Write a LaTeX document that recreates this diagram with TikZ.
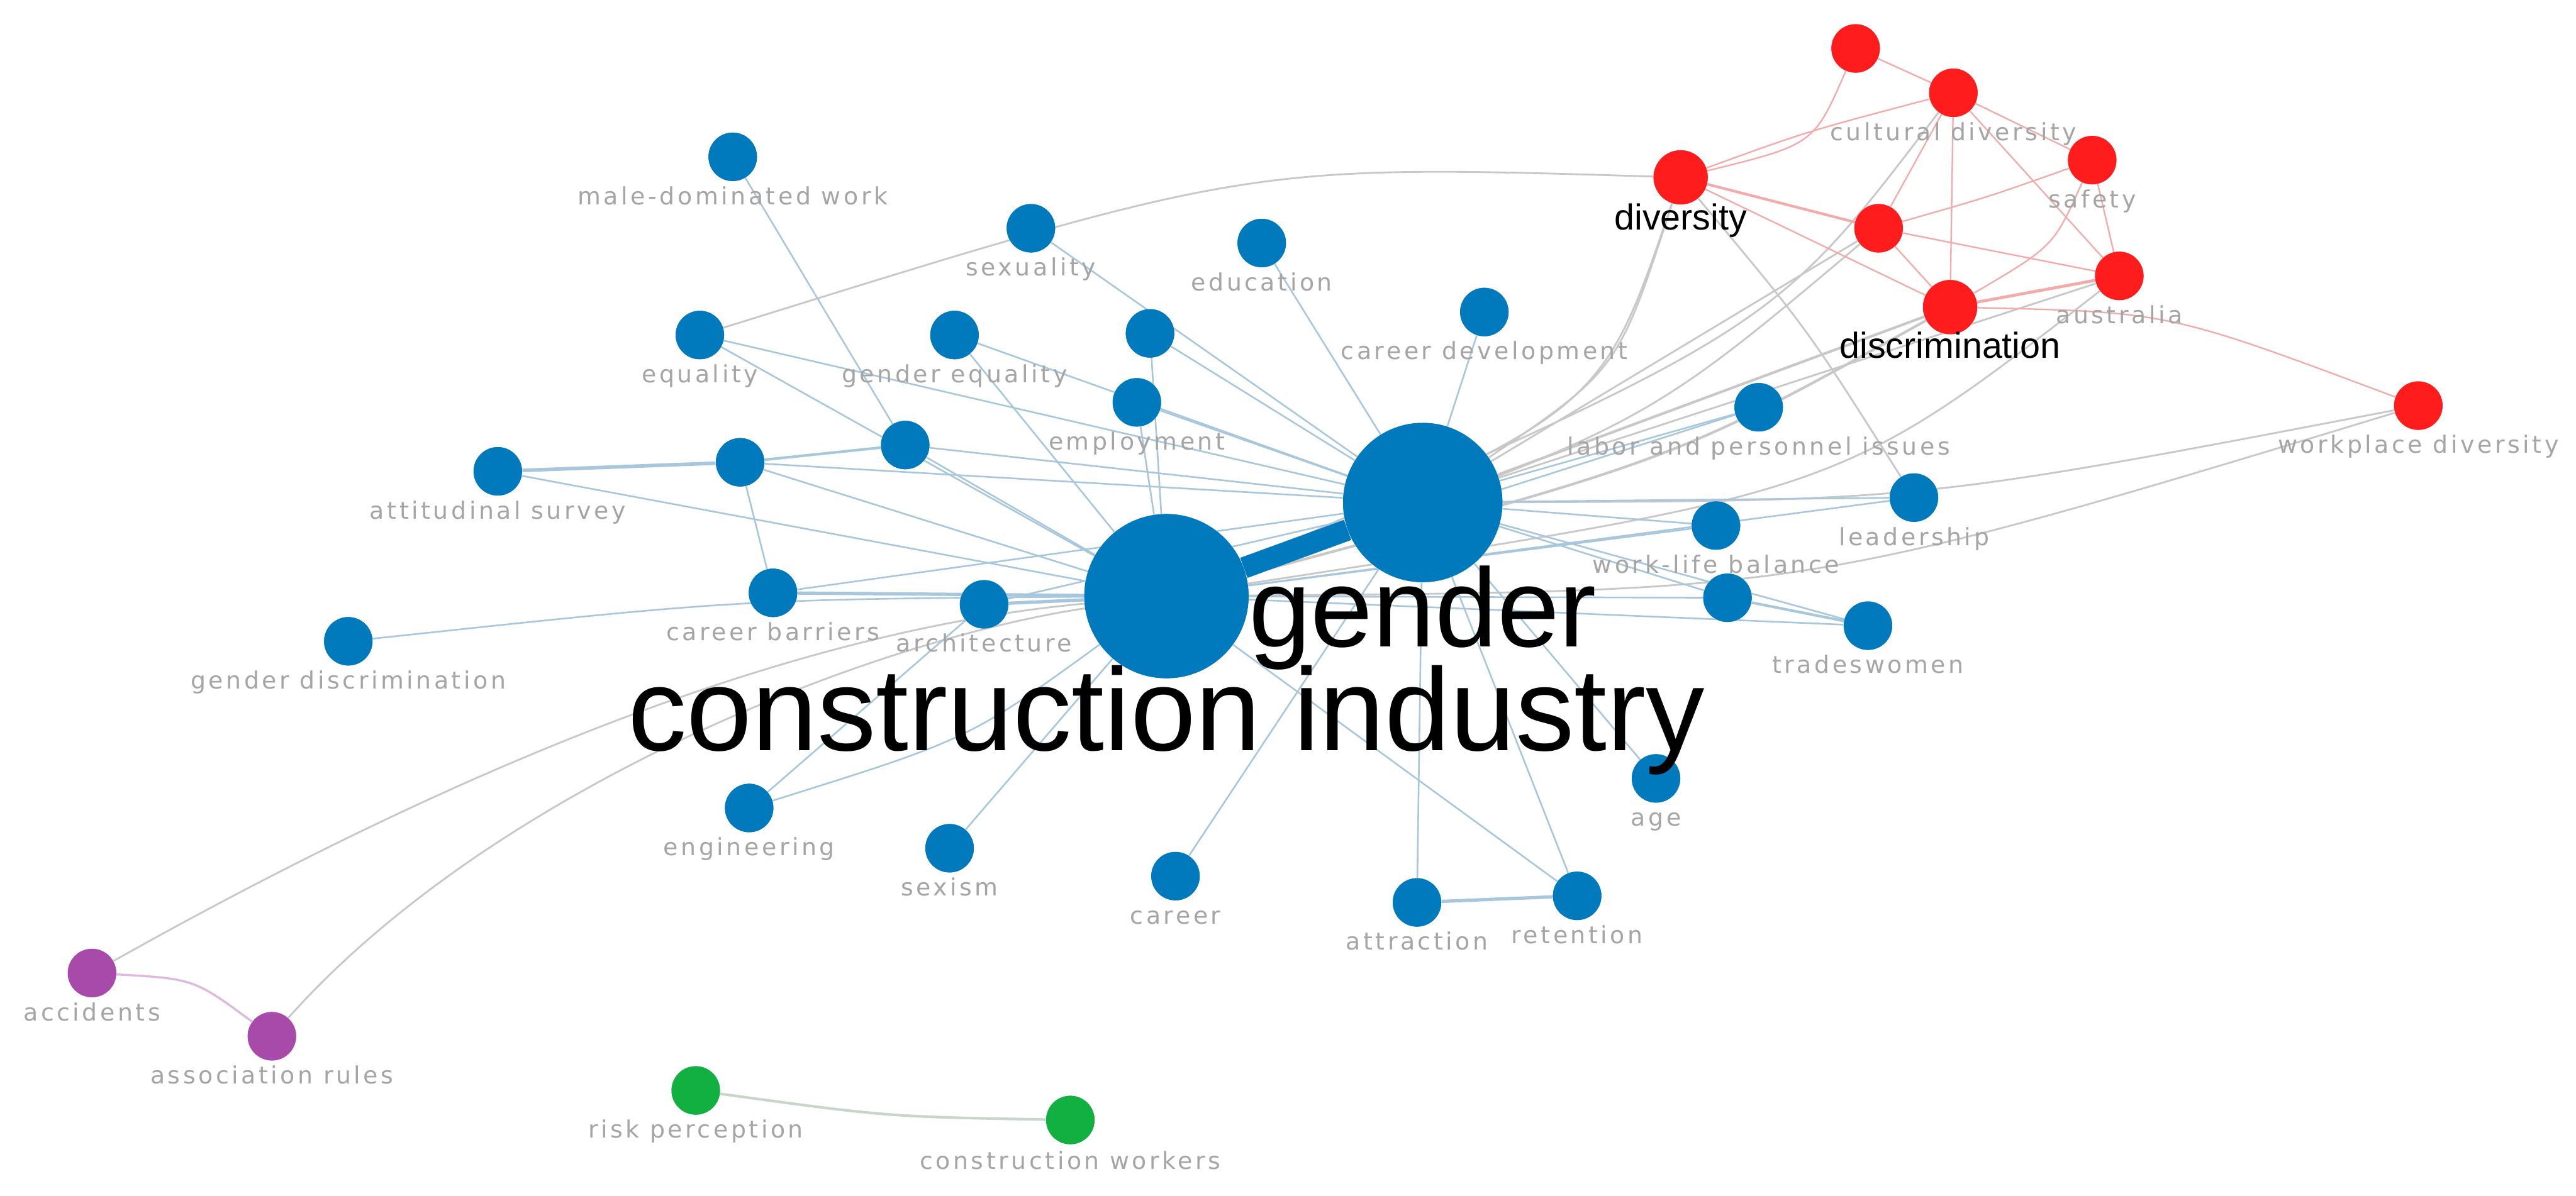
\documentclass[tikz,border=0pt]{standalone}
\usepackage{fontspec}
\setmainfont{Liberation Sans}
\newfontfamily\lblfont[LetterSpace=12]{DejaVu Sans}
\definecolor{nblue}{RGB}{0,122,189}
\definecolor{nred}{RGB}{255,28,28}
\definecolor{npurple}{RGB}{168,74,170}
\definecolor{ngreen}{RGB}{18,176,64}
\definecolor{eblue}{RGB}{168,199,220}
\definecolor{egray}{RGB}{200,200,200}
\definecolor{ered}{RGB}{242,170,170}
\definecolor{epurple}{RGB}{222,185,222}
\definecolor{egreen}{RGB}{200,214,200}
\definecolor{lgray}{RGB}{165,165,165}
\tikzset{
  kw/.style={circle, fill=nblue, inner sep=0pt, minimum size=29.5pt},
  kwr/.style={kw, fill=nred},
  kwp/.style={kw, fill=npurple},
  kwg/.style={kw, fill=ngreen},
  lbl/.style={font=\lblfont\fontsize{14.5}{16}\selectfont, text=lgray, anchor=base, inner sep=0pt},
  blk/.style={font=\fontsize{22}{24}\selectfont, text=black, anchor=base, inner sep=0pt},
  hugelbl/.style={font=\fontsize{71.5}{80}\selectfont, text=black, anchor=base, inner sep=0pt},
  be/.style={draw=eblue, line width=1pt},
  ge/.style={draw=egray, line width=1.1pt},
  re/.style={draw=ered, line width=0.9pt}
}
\begin{document}
\begin{tikzpicture}[x=1pt,y=-1pt]
\useasboundingbox (0,0) rectangle (1568,728);
% ---------- nodes (drawn later, defined now) ----------
\path
 (866,306) node[kw, minimum size=97pt] (G) {}
 (710,363) node[kw, minimum size=100pt] (CI) {}
 (446,95.5) node[kw] (mdw) {}
 (627.5,139) node[kw] (sex) {}
 (768,148) node[kw] (edu) {}
 (426,204) node[kw] (eq) {}
 (581,204) node[kw] (geq) {}
 (700,203) node[kw] (u1) {}
 (692,245) node[kw] (emp) {}
 (903.5,190) node[kw] (cdev) {}
 (303,287) node[kw] (att) {}
 (450.5,281.5) node[kw] (u2) {}
 (551,271) node[kw] (u3) {}
 (470.5,361) node[kw] (cbar) {}
 (599,368) node[kw] (arch) {}
 (212,390.5) node[kw] (gdis) {}
 (456,492) node[kw] (eng) {}
 (578,516.5) node[kw] (sexm) {}
 (715.5,533.5) node[kw] (car) {}
 (862.5,549.5) node[kw] (attr) {}
 (960,545.5) node[kw] (ret) {}
 (1008,474) node[kw] (age) {}
 (1137,381) node[kw] (trw) {}
 (1044.5,320) node[kw] (wlb) {}
 (1051.5,364) node[kw] (u4) {}
 (1165,303) node[kw] (lead) {}
 (1070.5,248) node[kw] (lab) {}
 (1129.5,29.5) node[kwr] (r1) {}
 (1189,56.5) node[kwr] (cult) {}
 (1273.5,97.5) node[kwr] (safe) {}
 (1023,108) node[kwr, minimum size=33pt] (div) {}
 (1143.5,139) node[kwr] (r2) {}
 (1187,187) node[kwr, minimum size=33pt] (disc) {}
 (1290,168) node[kwr] (aus) {}
 (1472,247) node[kwr] (wdiv) {}
 (56,592.5) node[kwp] (acc) {}
 (165.5,631) node[kwp] (assoc) {}
 (423.5,664) node[kwg] (risk) {}
 (651.5,682) node[kwg] (cw) {};
% ---------- edges ----------
% gray inter-cluster edges
\draw[ge] (eq) .. controls (760,100) .. (div);
\draw[ge] (div) .. controls (985,225) .. (G);
\draw[ge] (div) .. controls (975,250) .. (CI);
\draw[ge] (r2) -- (G);
\draw[ge] (r2) .. controls (1000,260) .. (CI);
\draw[ge] (cult) .. controls (1080,200) .. (CI);
\draw[ge, line width=1.6pt] (disc) -- (G);
\draw[ge, line width=1.6pt] (disc) .. controls (1020,280) .. (CI);
\draw[ge] (aus) -- (G);
\draw[ge] (aus) .. controls (1120,300) .. (CI);
\draw[ge] (div) .. controls (1100,200) .. (lead);
\draw[ge] (wdiv) .. controls (1169,305) .. (G);
\draw[ge] (wdiv) .. controls (1100,360) .. (CI);
\draw[ge] (acc) .. controls (260,478) and (470,385) .. (CI);
\draw[ge] (assoc) .. controls (300,480) and (530,390) .. (CI);
\draw[draw=epurple, line width=1.3pt] (acc) .. controls (118,596) .. (assoc);
\draw[draw=egreen, line width=1.6pt] (risk) .. controls (540,680) .. (cw);
% red edges
\draw[re] (div) .. controls (1104,88) .. (r1);
\draw[re] (div) .. controls (1100,80) .. (cult);
\draw[re, line width=1.6pt] (div) -- (r2);
\draw[re] (div) -- (disc);
\draw[re] (r1) -- (cult);
\draw[re] (cult) -- (r2);
\draw[re] (cult) -- (disc);
\draw[re] (cult) -- (safe);
\draw[re] (cult) -- (aus);
\draw[re] (r2) .. controls (1210,120) .. (safe);
\draw[re] (r2) -- (aus);
\draw[re] (r2) -- (disc);
\draw[re] (safe) .. controls (1250,150) .. (disc);
\draw[re] (safe) -- (aus);
\draw[re, line width=1.8pt] (disc) -- (aus);
\draw[re] (disc) .. controls (1320,190) .. (wdiv);
% blue edges
\foreach \a/\b in {sex/G, edu/G, eq/G, eq/CI, geq/G, geq/CI, u1/G, u1/CI,
  emp/G, emp/CI, cdev/G, mdw/u3, u3/G, u3/CI, att/CI, u2/cbar, u2/G, u2/CI,
  cbar/G, arch/G, eng/arch, sexm/CI, car/G, attr/G, ret/CI, ret/G, age/G,
  trw/G, trw/CI, u4/G, u4/CI, wlb/G, wlb/CI, lead/G, lead/CI, lab/G, lab/CI}
  \draw[be] (\a) -- (\b);
\draw[be, line width=2.2pt] (att) -- (u2);
\draw[be, line width=1.6pt] (u2) -- (u3);
\draw[be, line width=2pt] (cbar) -- (CI);
\draw[be, line width=2pt] (arch) -- (CI);
\draw[be, line width=2pt] (attr) -- (ret);
\draw[be, line width=1.6pt] (trw) -- (u4);
\draw[be] (gdis) .. controls (450,365) .. (CI);
\draw[be] (eng) .. controls (590,450) .. (CI);
\draw[draw=nblue, line width=13pt] (CI) -- (G);
% ---------- redraw nodes on top ----------
\foreach \n/\c/\s in {G/nblue/97, CI/nblue/100, mdw/nblue/29.5, sex/nblue/29.5, edu/nblue/29.5,
  eq/nblue/29.5, geq/nblue/29.5, u1/nblue/29.5, emp/nblue/29.5, cdev/nblue/29.5,
  att/nblue/29.5, u2/nblue/29.5, u3/nblue/29.5, cbar/nblue/29.5, arch/nblue/29.5,
  gdis/nblue/29.5, eng/nblue/29.5, sexm/nblue/29.5, car/nblue/29.5, attr/nblue/29.5,
  ret/nblue/29.5, age/nblue/29.5, trw/nblue/29.5, wlb/nblue/29.5, u4/nblue/29.5,
  lead/nblue/29.5, lab/nblue/29.5, r1/nred/29.5, cult/nred/29.5, safe/nred/29.5,
  div/nred/33, r2/nred/29.5, disc/nred/33, aus/nred/29.5, wdiv/nred/29.5,
  acc/npurple/29.5, assoc/npurple/29.5, risk/ngreen/29.5, cw/ngreen/29.5}
  \fill[\c] (\n.center) circle[radius=\s/2];
% ---------- labels ----------
\node[lbl] (t-mdw) at (446,124.5) {male-dominated work};
\node[lbl] (t-sex) at (627.5,168) {sexuality};
\node[lbl] (t-edu) at (768,177) {education};
\node[lbl] (t-eq) at (426,233) {equality};
\node[lbl] (t-geq) at (581,233) {gender equality};
\node[lbl] (t-emp) at (692,274) {employment};
\node[lbl] (t-cdev) at (903.5,219) {career development};
\node[lbl] (t-att) at (303,316) {attitudinal survey};
\node[lbl] (t-cbar) at (470.5,390) {career barriers};
\node[lbl] (t-arch) at (599,397) {architecture};
\node[lbl] (t-gdis) at (212,419.5) {gender discrimination};
\node[lbl] (t-eng) at (456,521) {engineering};
\node[lbl] (t-sexm) at (578,545.5) {sexism};
\node[lbl] (t-car) at (715.5,562.5) {career};
\node[lbl] (t-attr) at (862.5,578.5) {attraction};
\node[lbl] (t-ret) at (960,574.5) {retention};
\node[lbl] (t-age) at (1008,503) {age};
\node[lbl] (t-trw) at (1137,410) {tradeswomen};
\node[lbl] (t-wlb) at (1044.5,349) {work-life balance};
\node[lbl] (t-lead) at (1165,332) {leadership};
\node[lbl] (t-lab) at (1070.5,277) {labor and personnel issues};
\node[lbl] (t-cult) at (1189,85.5) {cultural diversity};
\node[lbl] (t-safe) at (1273.5,126.5) {safety};
\node[lbl] (t-aus) at (1290,197) {australia};
\node[lbl] (t-wdiv) at (1472,276) {workplace diversity};
\node[lbl] (t-acc) at (56,621.5) {accidents};
\node[lbl] (t-assoc) at (165.5,660) {association rules};
\node[lbl] (t-risk) at (423.5,693) {risk perception};
\node[lbl] (t-cw) at (651.5,712) {construction workers};
\node[blk] (t-div) at (1023,140) {diversity};
\node[blk] (t-disc) at (1187,218) {discrimination};
\node[hugelbl, font=\fontsize{68}{78}\selectfont] (t-G) at (866,394) {gender};
\node[hugelbl] (t-CI) at (710,457) {construction industry};
\end{tikzpicture}
\end{document}
